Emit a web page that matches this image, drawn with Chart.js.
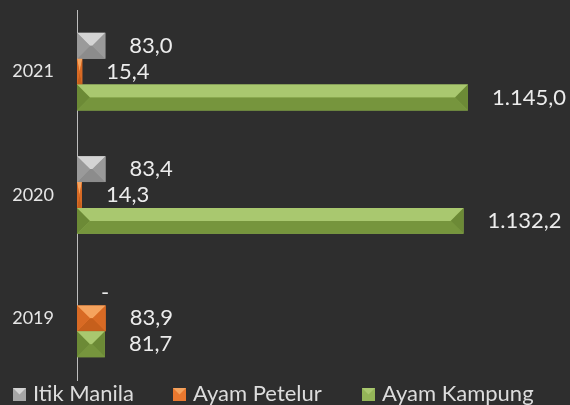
<!DOCTYPE html>
<html>
<head>
<meta charset="utf-8">
<script src="https://cdn.jsdelivr.net/npm/chart.js@4.4.0/dist/chart.umd.min.js"></script>
<style>
  html, body { margin: 0; padding: 0; background: #2e2e2e; }
  #wrap { width: 570px; height: 405px; }
</style>
</head>
<body>
<div id="wrap"><canvas id="ternakChart"></canvas></div>
<script>
// Data (tahun, populasi per jenis ternak)
const years = ['2021', '2020', '2019'];
const itikManila = [83.0, 83.4, 0];
const ayamPetelur = [15.4, 14.3, 83.9];
const ayamKampung = [1145.0, 1132.2, 81.7];

// base, light (top), dark (bottom), side colours for the bevel look
const shades = {
  gray: ['#a6a6a6', '#d4d4d4', '#8c8c8c', '#9a9a9a'],
  orange: ['#e9782f', '#f5a35e', '#c65f1c', '#d86a24'],
  green: ['#94b558', '#a9c86f', '#76953d', '#6c8a36']
};

function fmt(v) {
  if (!v) return '-';
  const parts = v.toFixed(1).split('.');
  const whole = parts[0].replace(/\B(?=(\d{3})+(?!\d))/g, '.');
  return whole + ',' + parts[1];
}

const bgPlugin = {
  id: 'bg',
  beforeDraw(chart) {
    const c = chart.ctx;
    c.save();
    c.fillStyle = '#2e2e2e';
    c.fillRect(0, 0, chart.width, chart.height);
    c.restore();
  }
};

// bevel + value labels
const bevelPlugin = {
  id: 'bevel',
  afterDatasetsDraw(chart) {
    const c = chart.ctx;
    chart.data.datasets.forEach((ds, di) => {
      const meta = chart.getDatasetMeta(di);
      const sh = ds.shades;
      meta.data.forEach((bar, i) => {
        const p = bar.getProps(['x', 'y', 'base', 'height'], true);
        const top = p.y - p.height / 2, bot = p.y + p.height / 2;
        const x0 = p.base, x1 = p.x;
        const w = x1 - x0;
        if (w > 1) {
          const b = Math.min(p.height / 2, w / 2);
          const mid = p.y;
          c.fillStyle = sh[1];
          c.beginPath();
          c.moveTo(x0, top); c.lineTo(x1, top);
          c.lineTo(x1 - b, mid); c.lineTo(x0 + b, mid);
          c.closePath(); c.fill();
          c.fillStyle = sh[2];
          c.beginPath();
          c.moveTo(x0, bot); c.lineTo(x1, bot);
          c.lineTo(x1 - b, mid); c.lineTo(x0 + b, mid);
          c.closePath(); c.fill();
          c.fillStyle = sh[3];
          c.beginPath();
          c.moveTo(x0, top); c.lineTo(x0 + b, mid); c.lineTo(x0, bot);
          c.closePath(); c.fill();
          c.beginPath();
          c.moveTo(x1, top); c.lineTo(x1 - b, mid); c.lineTo(x1, bot);
          c.closePath(); c.fill();
        }
        c.fillStyle = '#ececec';
        c.font = '22px Lato, "Open Sans", sans-serif';
        c.textAlign = 'left';
        c.textBaseline = 'middle';
        c.fillText(fmt(ds.data[i]), x1 + 24, p.y);
      });
    });
  }
};

// legend drawn by hand so it sits exactly along the bottom edge
const legendPlugin = {
  id: 'bottomLegend',
  afterDraw(chart) {
    const c = chart.ctx;
    const y = 394;
    const items = [
      { x: 13, sh: shades.gray },
      { x: 173, sh: shades.orange },
      { x: 362, sh: shades.green }
    ];
    c.save();
    c.font = '22px Lato, "Open Sans", sans-serif';
    c.textAlign = 'left';
    c.textBaseline = 'middle';
    chart.data.datasets.forEach((ds, i) => {
      const it = items[i];
      c.fillStyle = it.sh[0];
      c.fillRect(it.x, y - 6, 13, 13);
      c.fillStyle = it.sh[1];
      c.beginPath();
      c.moveTo(it.x, y - 6); c.lineTo(it.x + 13, y - 6); c.lineTo(it.x + 6.5, y + 0.5);
      c.closePath(); c.fill();
      c.fillStyle = '#dcdcdc';
      c.fillText(ds.label, it.x + 20, y);
    });
    c.restore();
  }
};

new Chart(document.getElementById('ternakChart'), {
  type: 'bar',
  data: {
    labels: years,
    datasets: [
      { label: 'Itik Manila', data: itikManila, backgroundColor: shades.gray[0], shades: shades.gray },
      { label: 'Ayam Petelur', data: ayamPetelur, backgroundColor: shades.orange[0], shades: shades.orange },
      { label: 'Ayam Kampung', data: ayamKampung, backgroundColor: shades.green[0], shades: shades.green }
    ]
  },
  options: {
    indexAxis: 'y',
    responsive: true,
    maintainAspectRatio: false,
    animation: false,
    layout: { padding: { top: 10, right: 15, left: 0, bottom: 25 } },
    datasets: { bar: { categoryPercentage: 0.63, barPercentage: 1.0 } },
    scales: {
      x: { display: false, min: 0, max: 1400 },
      y: {
        grid: { display: false, drawTicks: false },
        border: { display: true, color: '#bdbdbd', width: 1 },
        ticks: { color: '#e6e6e6', padding: 23, font: { family: 'Lato', size: 18 } },
        afterFit(scale) {
          scale.width = 77;
          scale.paddingTop = 0;
          scale.paddingBottom = 0;
        }
      }
    },
    plugins: {
      legend: { display: false },
      tooltip: { enabled: false }
    }
  },
  plugins: [bgPlugin, bevelPlugin, legendPlugin]
});
</script>
</body>
</html>
